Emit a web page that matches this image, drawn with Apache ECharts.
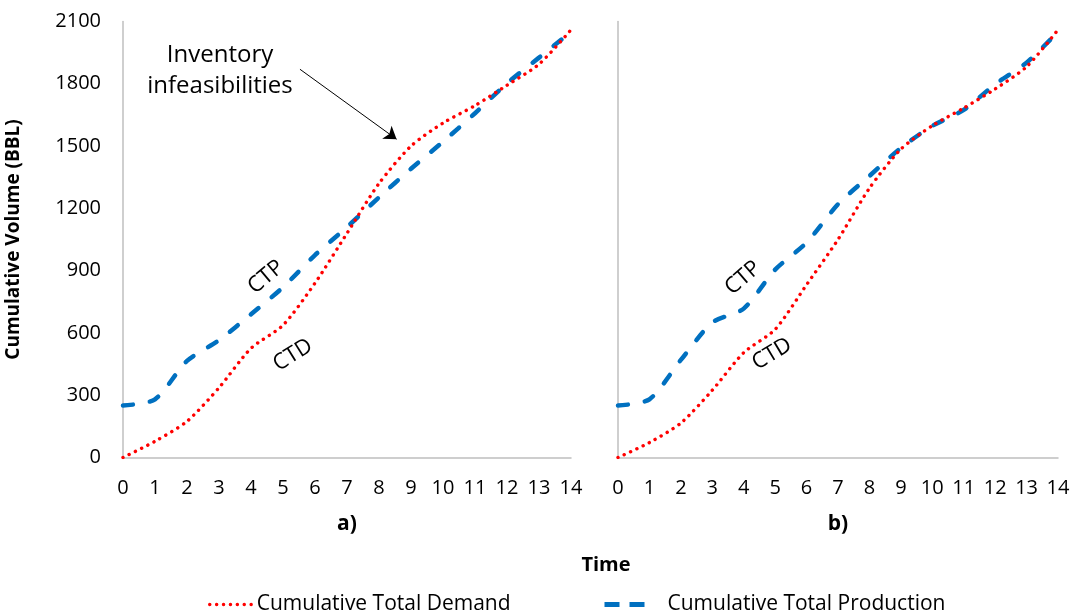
<!DOCTYPE html>
<html>
<head>
<meta charset="utf-8">
<script src="https://cdn.jsdelivr.net/npm/echarts@6/dist/echarts.min.js"></script>
<style>
  html, body { margin: 0; padding: 0; background: #fff; }
  #chart { width: 1081px; height: 616px; }
</style>
</head>
<body>
<div id="chart"></div>
<script>
// ---- data ----
const timeSteps = [0, 1, 2, 3, 4, 5, 6, 7, 8, 9, 10, 11, 12, 13, 14];
const yTicks = [0, 300, 600, 900, 1200, 1500, 1800, 2100];
const demandA = [0, 78, 174, 336, 526, 637, 840, 1080, 1320, 1500, 1611, 1695, 1793, 1894, 2060];
const productionA = [250, 280, 465, 565, 690, 820, 975, 1110, 1253, 1391, 1521, 1658, 1802, 1926, 2050];
const demandB = [0, 72, 166, 324, 505, 617, 832, 1050, 1297, 1485, 1598, 1683, 1775, 1882, 2060];
const productionB = [250, 280, 470, 650, 717, 905, 1035, 1220, 1356, 1491, 1597, 1674, 1798, 1902, 2050];
const panelNames = ['a)', 'b)'];
const demandName = 'Cumulative Total Demand';
const productionName = 'Cumulative Total Production';

const FONT = 'Open Sans';
const pairs = arr => arr.map((v, i) => [timeSteps[i], v]);

const axisLineStyle = { color: '#bfbfbf', width: 1.5 };
const makeX = (idx) => ({
  type: 'value', gridIndex: idx, min: 0, max: 14, interval: 1,
  axisLine: { show: true, onZero: false, lineStyle: axisLineStyle },
  axisTick: { show: false }, splitLine: { show: false },
  axisLabel: { color: '#000', fontFamily: FONT, fontSize: 20, margin: 21 },
  name: panelNames[idx], nameLocation: 'middle', nameGap: 56,
  nameTextStyle: { color: '#000', fontFamily: FONT, fontSize: 21, fontWeight: 'bold' }
});
const makeY = (idx) => ({
  type: 'value', gridIndex: idx, min: yTicks[0], max: yTicks[yTicks.length - 1], interval: 300,
  axisLine: { show: true, lineStyle: axisLineStyle },
  axisTick: { show: false }, splitLine: { show: false },
  axisLabel: { show: idx === 0, color: '#000', fontFamily: FONT, fontSize: 20, margin: 22,
               formatter: v => String(v) },
  name: idx === 0 ? 'Cumulative Volume (BBL)' : '',
  nameLocation: 'middle', nameGap: 100,
  nameTextStyle: { color: '#000', fontFamily: FONT, fontSize: 19, fontWeight: 'bold' }
});

const demandStyle = { color: '#ff0000', width: 3.4, type: [0.1, 6.8], cap: 'round' };
const prodStyle = { color: '#0070c0', width: 4.5, type: [10, 17], cap: 'round' };

const lineSeries = (name, data, idx, style) => ({
  name, type: 'line', xAxisIndex: idx, yAxisIndex: idx, data: pairs(data),
  symbol: 'none', smooth: 0.25, lineStyle: style, itemStyle: { color: style.color },
  animation: false, z: name === demandName ? 3 : 2
});

const annotText = (text, x, y, deg, size) => ({
  type: 'text', x, y, rotation: deg * Math.PI / 180,
  style: { text, fill: '#000', font: `${size}px "${FONT}"`, align: 'center', verticalAlign: 'middle' }
});

const chart = echarts.init(document.getElementById('chart'), null, { renderer: 'canvas' });
chart.setOption({
  backgroundColor: '#fff',
  animation: false,
  grid: [
    { left: 123, top: 21.5, width: 448, height: 436 },
    { left: 618, top: 21.5, width: 440, height: 436 }
  ],
  xAxis: [makeX(0), makeX(1)],
  yAxis: [makeY(0), makeY(1)],
  legend: [
    {
      data: [demandName], left: 208, top: 594, padding: 0, itemWidth: 42, itemHeight: 14,
      itemStyle: { opacity: 0 },
      lineStyle: { type: [0.1, 6.8], cap: 'round', width: 3.4, color: '#ff0000' },
      textStyle: { color: '#000', fontFamily: FONT, fontSize: 21 }
    },
    {
      data: [productionName], left: 602, top: 594, padding: 0, itemWidth: 40, itemHeight: 14,
      itemStyle: { opacity: 0 },
      lineStyle: { type: [15, 10], cap: 'butt', width: 5, color: '#0070c0' },
      textStyle: { color: '#000', fontFamily: FONT, fontSize: 21, padding: [0, 0, 0, 18] }
    }
  ],
  series: [
    Object.assign(lineSeries(productionName, productionA, 0, prodStyle), {
      markLine: {
        silent: true, animation: false,
        symbol: ['none', 'arrow'], symbolSize: 12,
        lineStyle: { color: '#000', width: 1, type: 'solid' },
        itemStyle: { color: '#000' },
        label: { show: false },
        data: [[{ coord: [5.53, 1870] }, { coord: [8.55, 1533] }]]
      }
    }),
    lineSeries(demandName, demandA, 0, demandStyle),
    lineSeries(productionName, productionB, 1, prodStyle),
    lineSeries(demandName, demandB, 1, demandStyle)
  ],
  graphic: [
    {
      type: 'text', x: 220, y: 71,
      style: { text: 'Inventory\ninfeasibilities', fill: '#000', font: `24px "${FONT}"`,
               align: 'center', verticalAlign: 'middle', lineHeight: 31 }
    },
    annotText('CTP', 266, 277, 40, 22),
    annotText('CTD', 293, 355, 32, 22),
    annotText('CTP', 743, 278, 41, 22),
    annotText('CTD', 772, 354, 31, 22),
    {
      type: 'text', x: 606, y: 565,
      style: { text: 'Time', fill: '#000', font: `bold 20px "${FONT}"`, align: 'center', verticalAlign: 'middle' }
    }
  ]
});
</script>
</body>
</html>
